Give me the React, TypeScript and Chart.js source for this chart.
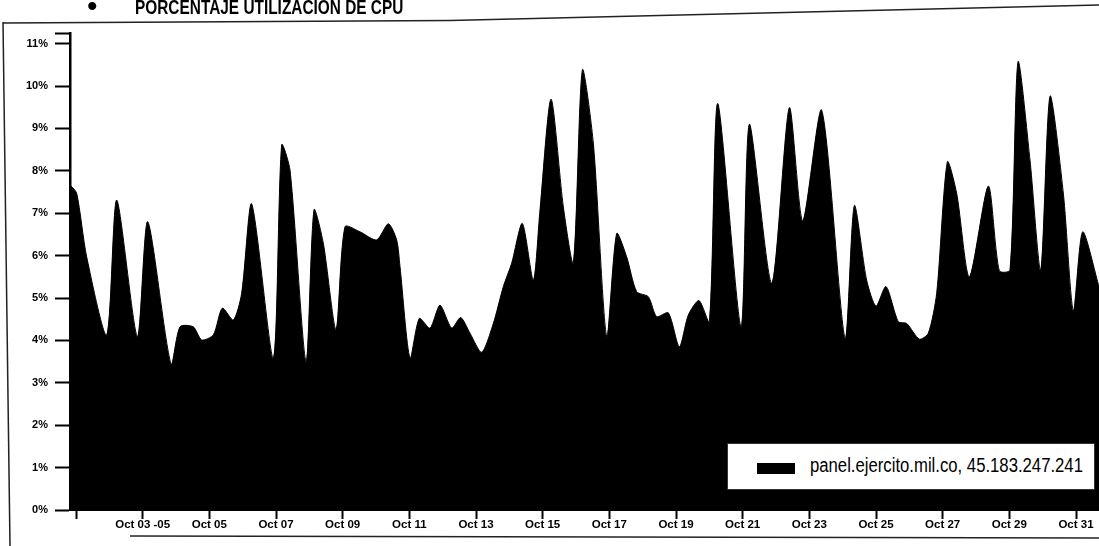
import React, { useEffect, useRef } from "react";
import { Chart, registerables } from "chart.js";

Chart.register(...registerables);

// ---------- data ----------
const TITLE = "PORCENTAJE UTILIZACIÓN DE CPU";
const SERIES_LABEL = "panel.ejercito.mil.co, 45.183.247.241";

// time in days since Oct 01 00:00
const dayOffsets = [
  -0.17, 0.02, 0.32, 0.92, 1.22, 1.84, 2.15, 2.85, 3.12, 3.52, 3.77, 4.12, 4.39, 4.72, 4.97,
  5.27, 5.92, 6.17, 6.42, 6.9, 7.14, 7.42, 7.8, 8.07, 8.52, 9.02, 9.37, 9.62, 9.72, 10.02,
  10.3, 10.62, 10.92, 11.27, 11.54, 11.82, 12.17, 12.52, 12.82, 13.07, 13.39, 13.72, 13.92,
  14.25, 14.62, 14.92, 15.19, 15.52, 15.92, 16.22, 16.52, 16.82, 17.17, 17.42, 17.77, 18.1,
  18.37, 18.69, 19.0, 19.25, 19.95, 20.2, 20.87, 21.4, 21.8, 22.37, 23.07, 23.35, 23.72, 24.0,
  24.3, 24.67, 24.92, 25.3, 25.57, 25.82, 26.14, 26.42, 26.8, 27.37, 27.7, 28.02, 28.26, 28.62,
  28.94, 29.22, 29.62, 29.92, 30.2, 30.69,
];

// CPU utilisation, percent
const cpuPercent = [
  7.66, 7.47, 5.97, 4.13, 7.31, 4.09, 6.8, 3.44, 4.32, 4.32, 4.01, 4.13, 4.76, 4.48, 5.11,
  7.22, 3.58, 8.61, 8.02, 3.5, 7.08, 6.29, 4.26, 6.68, 6.56, 6.37, 6.75, 6.37, 5.74, 3.58,
  4.52, 4.29, 4.83, 4.29, 4.54, 4.17, 3.72, 4.4, 5.27, 5.82, 6.76, 5.42, 7.08,
  9.69, 7.15, 5.83, 10.38, 8.65, 4.09, 6.52, 5.97, 5.15, 5.03, 4.56, 4.65, 3.85,
  4.6, 4.94, 4.44, 9.59, 4.32, 9.1, 5.35, 9.49, 6.82, 9.43, 4.05, 7.18, 5.42, 4.81,
  5.27, 4.44, 4.4, 4.03, 4.17, 5.11, 8.21, 7.47, 5.5, 7.64, 5.64, 5.66, 10.57, 8.25,
  5.66, 9.76, 7.47, 4.7, 6.56, 5.27,
];

const xTickDays = [0, 2, 4, 6, 8, 10, 12, 14, 16, 18, 20, 22, 24, 26, 28, 30];
const xTickLabels = [
  "", "Oct 03 -05", "Oct 05", "Oct 07", "Oct 09", "Oct 11", "Oct 13", "Oct 15",
  "Oct 17", "Oct 19", "Oct 21", "Oct 23", "Oct 25", "Oct 27", "Oct 29", "Oct 31",
];
const yTickValues = [0, 1, 2, 3, 4, 5, 6, 7, 8, 9, 10, 11];
const yTickLabels = ["0%", "1%", "2%", "3%", "4%", "5%", "6%", "7%", "8%", "9%", "10%", "11%"];

const X_MIN = -0.18;
const X_MAX = 30.69;
const Y_MAX = 11.25;

const FONT = "'Liberation Sans', Arial, Helvetica, sans-serif";

export default function App() {
  const canvasRef = useRef<HTMLCanvasElement | null>(null);

  useEffect(() => {
    const canvas = canvasRef.current;
    if (!canvas) return;

    const framePlugin = {
      id: "scanFrame",
      afterDraw(chart: any) {
        const ctx = chart.ctx as CanvasRenderingContext2D;
        ctx.save();
        ctx.strokeStyle = "#222";
        ctx.lineWidth = 1.5;
        ctx.beginPath();
        ctx.moveTo(3, 23);
        ctx.lineTo(450, 20.5);
        ctx.lineTo(1099, 5);
        ctx.stroke();
        ctx.beginPath();
        ctx.moveTo(3, 22);
        ctx.lineTo(10, 546);
        ctx.stroke();
        ctx.beginPath();
        ctx.moveTo(130, 536);
        ctx.lineTo(1099, 538);
        ctx.stroke();
        ctx.restore();
      },
    };

    const chart = new Chart(canvas, {
      type: "line",
      data: {
        datasets: [
          {
            label: SERIES_LABEL,
            data: dayOffsets.map((d, i) => ({ x: d, y: cpuPercent[i] })),
            fill: "origin",
            backgroundColor: "#000",
            borderColor: "#000",
            borderWidth: 1,
            pointRadius: 0,
            tension: 0.25,
          } as any,
        ],
      },
      options: {
        animation: false,
        responsive: false,
        events: [],
        layout: { padding: { top: 33, left: 0, right: 0, bottom: 0 } },
        plugins: {
          legend: { display: false },
          tooltip: { enabled: false },
          title: { display: false },
        },
        scales: {
          x: {
            type: "linear",
            min: X_MIN,
            max: X_MAX,
            afterBuildTicks: (s: any) => {
              s.ticks = xTickDays.map((v) => ({ value: v }));
            },
            afterFit: (s: any) => {
              s.height = 36;
            },
            ticks: {
              autoSkip: false,
              maxRotation: 0,
              minRotation: 0,
              padding: -1,
              color: "#000",
              font: { family: FONT, size: 11.5, weight: "bold" },
              callback: (v: any) => {
                const i = xTickDays.indexOf(Number(v));
                return i >= 0 ? xTickLabels[i] : "";
              },
            },
            grid: {
              drawOnChartArea: false,
              drawTicks: true,
              tickLength: 9,
              tickWidth: 2,
              tickColor: "#000",
            },
            border: { display: true, color: "#000", width: 2 },
          },
          y: {
            min: 0,
            max: Y_MAX,
            afterBuildTicks: (s: any) => {
              s.ticks = [...yTickValues.map((v) => ({ value: v })), { value: Y_MAX }];
            },
            afterFit: (s: any) => {
              s.width = 70;
            },
            ticks: {
              padding: 7,
              color: "#000",
              font: { family: FONT, size: 11, weight: "bold" },
              callback: (v: any) => {
                const i = yTickValues.indexOf(Number(v));
                return i >= 0 ? yTickLabels[i] : "";
              },
            },
            grid: {
              drawOnChartArea: false,
              drawTicks: true,
              tickLength: 15,
              tickWidth: 2,
              tickColor: "#000",
            },
            border: { display: true, color: "#000", width: 2.5 },
          },
        },
      },
      plugins: [framePlugin],
    });

    return () => chart.destroy();
  }, []);

  return (
    <div
      style={{
        position: "fixed",
        left: 0,
        top: 0,
        width: 1099,
        height: 546,
        background: "#fff",
        overflow: "hidden",
        fontFamily: FONT,
      }}
    >
      <canvas
        ref={canvasRef}
        width={1099}
        height={546}
        style={{ position: "absolute", left: 0, top: 0, width: 1099, height: 546 }}
      />
      <div
        style={{
          position: "absolute",
          left: 87,
          top: -9,
          fontSize: 30,
          lineHeight: "30px",
          color: "#000",
          whiteSpace: "nowrap",
        }}
      >
        •
      </div>
      <div
        style={{
          position: "absolute",
          left: 135,
          top: -3.5,
          fontSize: 20,
          lineHeight: "20px",
          fontWeight: "bold",
          color: "#000",
          whiteSpace: "nowrap",
          transform: "scaleX(0.77)",
          transformOrigin: "0 0",
        }}
      >
        {TITLE}
      </div>
      <div
        style={{
          position: "absolute",
          left: 727,
          top: 443,
          width: 366,
          height: 45,
          background: "#fff",
          border: "1px solid #333",
        }}
      />
      <div
        style={{
          position: "absolute",
          left: 757,
          top: 463,
          width: 38,
          height: 11,
          background: "#000",
        }}
      />
      <div
        style={{
          position: "absolute",
          left: 810,
          top: 455,
          fontSize: 20,
          lineHeight: "20px",
          color: "#000",
          whiteSpace: "nowrap",
          transform: "scaleX(0.835)",
          transformOrigin: "0 0",
        }}
      >
        {SERIES_LABEL}
      </div>
    </div>
  );
}
